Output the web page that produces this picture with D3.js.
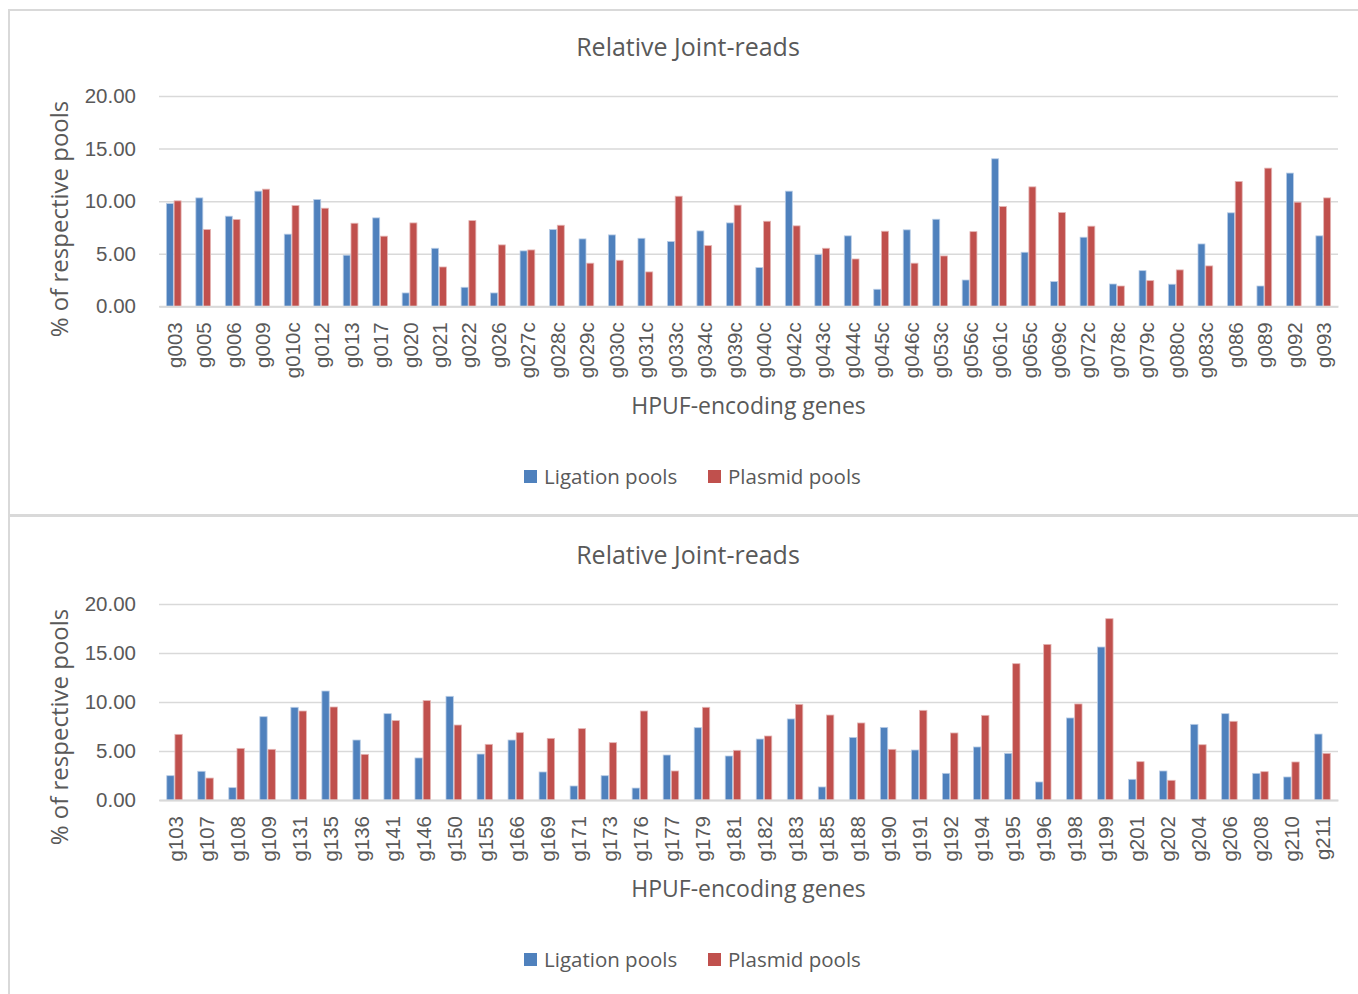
<!DOCTYPE html>
<html>
<head>
<meta charset="utf-8">
<script src="https://cdn.jsdelivr.net/npm/d3@7"></script>
<style>
  html, body { margin: 0; padding: 0; background: #fff; }
  svg { display: block; font-family: "Open Sans", Lato, sans-serif; }
</style>
</head>
<body>
<svg id="chart" width="1358" height="994"></svg>
<script>
// Relative joint-read percentages per HPUF-encoding gene, two panels.
const seriesNames = ["Ligation pools", "Plasmid pools"];
const seriesColors = ["#4f81bd", "#c0504d"];
const seriesEdges = ["#b9cde6", "#e4b5b4"];
const yTicks = [0, 5, 10, 15, 20];

const genesA = ["g003","g005","g006","g009","g010c","g012","g013","g017","g020","g021",
  "g022","g026","g027c","g028c","g029c","g030c","g031c","g033c","g034c","g039c",
  "g040c","g042c","g043c","g044c","g045c","g046c","g053c","g056c","g061c","g065c",
  "g069c","g072c","g078c","g079c","g080c","g083c","g086","g089","g092","g093"];
const ligationA = [9.77,10.31,8.57,10.95,6.86,10.15,4.86,8.41,1.27,5.52,
  1.81,1.27,5.27,7.30,6.41,6.79,6.47,6.16,7.17,7.93,
  3.68,10.95,4.92,6.70,1.62,7.27,8.28,2.50,14.03,5.14,
  2.35,6.57,2.12,3.39,2.10,5.93,8.89,1.93,12.67,6.70];
const plasmidA = [10.03,7.30,8.25,11.14,9.58,9.33,7.90,6.67,7.93,3.74,
  8.15,5.84,5.36,7.71,4.10,4.38,3.27,10.47,5.77,9.62,
  8.09,7.65,5.52,4.50,7.14,4.10,4.79,7.10,9.49,11.36,
  8.92,7.62,1.93,2.44,3.46,3.84,11.87,13.14,9.90,10.31];

const genesB = ["g103","g107","g108","g109","g131","g135","g136","g141","g146","g150",
  "g155","g166","g169","g171","g173","g176","g177","g179","g181","g182",
  "g183","g185","g188","g190","g191","g192","g194","g195","g196","g198",
  "g199","g201","g202","g204","g206","g208","g210","g211"];
const ligationB = [2.48,2.93,1.26,8.50,9.46,11.12,6.12,8.81,4.29,10.58,
  4.69,6.12,2.86,1.43,2.48,1.22,4.59,7.38,4.49,6.22,
  8.27,1.33,6.39,7.41,5.10,2.72,5.41,4.76,1.84,8.37,
  15.61,2.11,2.96,7.72,8.81,2.72,2.35,6.73];
const plasmidB = [6.70,2.24,5.27,5.17,9.08,9.49,4.66,8.10,10.14,7.65,
  5.68,6.87,6.29,7.28,5.85,9.08,2.96,9.46,5.07,6.53,
  9.76,8.67,7.86,5.17,9.15,6.84,8.64,13.91,15.88,9.80,
  18.50,3.91,2.01,5.64,8.03,2.89,3.88,4.76];

const svg = d3.select("#chart");
const textColor = "#595959";
const gridColor = "#d9d9d9";

function drawPanel(cfg) {
  const { top, height, genes, values, plotTop, plotBottom, titleY, axisTitleY, legendY, yTitleY } = cfg;
  const left = 159, right = 1338;

  // panel frame
  svg.append("rect")
    .attr("x", 9).attr("y", top).attr("width", 1362).attr("height", height)
    .attr("fill", "none").attr("stroke", gridColor).attr("stroke-width", 2);

  const g = svg.append("g");
  const x = d3.scaleBand().domain(genes).range([left, right]).paddingInner(0).paddingOuter(0);
  const x1 = d3.scaleBand().domain(seriesNames).range([0, x.bandwidth()]).paddingInner(0.1).paddingOuter(0.95);
  const y = d3.scaleLinear().domain([0, 20]).range([plotBottom, plotTop]);

  // gridlines and value labels
  const yAxis = d3.axisLeft(y).tickValues(yTicks).tickFormat(d3.format(".2f"))
    .tickSize(-(right - left)).tickPadding(23);
  const ya = g.append("g").attr("transform", `translate(${left},0)`).call(yAxis);
  ya.select(".domain").remove();
  ya.selectAll(".tick line").attr("stroke", gridColor).attr("stroke-width", 1.5);
  ya.selectAll(".tick text").attr("fill", textColor).style("font-size", "20.5px");

  // bars
  const rows = genes.map((gname, i) => ({ gene: gname, vals: values.map(v => v[i]) }));
  const grp = g.append("g").selectAll("g").data(rows).join("g")
    .attr("transform", d => `translate(${x(d.gene)},0)`);
  grp.selectAll("rect")
    .data(d => d.vals.map((v, k) => ({ name: seriesNames[k], v, k })))
    .join("rect")
    .attr("x", d => x1(d.name))
    .attr("width", x1.bandwidth())
    .attr("y", d => y(d.v))
    .attr("height", d => y(0) - y(d.v))
    .attr("fill", d => seriesColors[d.k])
    .attr("stroke", d => seriesEdges[d.k])
    .attr("stroke-width", 0.8);

  // category axis
  const xAxis = d3.axisBottom(x).tickSize(0).tickPadding(0);
  const xa = g.append("g").attr("transform", `translate(0,${plotBottom})`).call(xAxis);
  xa.select(".domain").attr("stroke", gridColor).attr("stroke-width", 2);
  xa.selectAll(".tick text")
    .attr("fill", textColor).style("font-size", "20.5px")
    .attr("text-anchor", "end")
    .attr("dy", null).attr("y", 0)
    .attr("transform", "translate(8,16) rotate(-90)");

  // titles
  svg.append("text").attr("x", 688).attr("y", titleY).attr("text-anchor", "middle")
    .attr("fill", textColor).style("font-size", "25px").text("Relative Joint-reads");
  svg.append("text").attr("x", (left + right) / 2).attr("y", axisTitleY).attr("text-anchor", "middle")
    .attr("fill", textColor).style("font-size", "23px").text("HPUF-encoding genes");
  svg.append("text")
    .attr("transform", `translate(68,${yTitleY}) rotate(-90)`)
    .attr("text-anchor", "middle")
    .attr("fill", textColor).style("font-size", "24px").text("% of respective pools");

  // legend
  const lg = svg.append("g").attr("transform", `translate(524,${legendY})`);
  const offsets = [0, 184];
  seriesNames.forEach((n, k) => {
    lg.append("rect").attr("x", offsets[k]).attr("y", -14).attr("width", 13).attr("height", 13)
      .attr("fill", seriesColors[k]);
    lg.append("text").attr("x", offsets[k] + 20).attr("y", 0)
      .attr("fill", textColor).style("font-size", "20.5px").text(n);
  });
}

drawPanel({ top: 10, height: 505, genes: genesA, values: [ligationA, plasmidA],
  plotTop: 96, plotBottom: 306.3, titleY: 56, axisTitleY: 414, legendY: 484, yTitleY: 219 });
drawPanel({ top: 516, height: 500, genes: genesB, values: [ligationB, plasmidB],
  plotTop: 604, plotBottom: 800, titleY: 564, axisTitleY: 897, legendY: 967, yTitleY: 727 });
</script>
</body>
</html>
